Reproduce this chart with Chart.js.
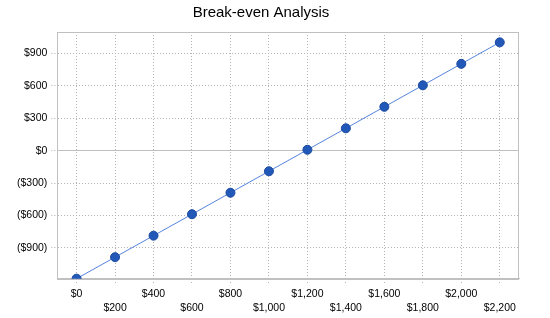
<!DOCTYPE html>
<html>
<head>
<meta charset="utf-8">
<script src="https://cdn.jsdelivr.net/npm/chart.js@4"></script>
<style>
    html, body { margin: 0; padding: 0; background: #ffffff; }
    #wrap { width: 550px; height: 318px; }
</style>
</head>
<body>
<div id="wrap"><canvas id="chart" width="550" height="318"></canvas></div>
<script>
// Break-even chart data
const categories = ["$0", "$200", "$400", "$600", "$800", "$1,000", "$1,200", "$1,400", "$1,600", "$1,800", "$2,000", "$2,200"];
const profitValues = [-1185, -986, -787, -588, -389, -190, 9, 208, 407, 606, 805, 1004];
const yTickValues = [-900, -600, -300, 0, 300, 600, 900];
const chartTitle = "Break-even Analysis";

const tickFont = { family: "'Liberation Sans', Arial, sans-serif", size: 10.5, lineHeight: 1.35 };

function money(v) {
    const s = "$" + Math.abs(v).toLocaleString("en-US");
    return v < 0 ? "(" + s + ")" : s;
}

// draw title a bit left of centre, like the original
const titlePlugin = {
    id: "titleText",
    afterDraw(chart) {
        const c = chart.ctx;
        c.save();
        c.font = "15px 'Liberation Sans', Arial, sans-serif";
        c.fillStyle = "#000000";
        c.textAlign = "center";
        c.textBaseline = "middle";
        c.fillText(chartTitle, chart.width / 2 - 14, 13);
        c.restore();
    }
};

// full box round the plot area
const framePlugin = {
    id: "frame",
    beforeDatasetsDraw(chart) {
        const a = chart.chartArea;
        const c = chart.ctx;
        c.save();
        c.strokeStyle = "#c0c0c0";
        c.lineWidth = 1;
        c.strokeRect(Math.round(a.left) + 0.5, Math.round(a.top) + 0.5, Math.round(a.right - a.left) - 1, Math.round(a.bottom - a.top));
        c.restore();
    }
};

const ctx = document.getElementById("chart").getContext("2d");
new Chart(ctx, {
    type: "line",
    data: {
        labels: categories,
        datasets: [{
            data: profitValues,
            borderColor: "#5585dc",
            borderWidth: 1,
            pointRadius: 4.5,
            pointBackgroundColor: "#2258b8",
            pointBorderColor: "#1c4aa0",
            pointBorderWidth: 1,
            tension: 0
        }]
    },
    options: {
        responsive: false,
        animation: false,
        layout: { padding: { left: 13, right: 31, top: 32, bottom: 1 } },
        plugins: {
            legend: { display: false },
            title: { display: false },
            tooltip: { enabled: false }
        },
        scales: {
            x: {
                offset: true,
                grid: {
                    offset: false,
                    color: "#b4b4b4",
                    tickLength: 6,
                    tickBorderDash: [1, 2],
                    tickColor: "#b4b4b4"
                },
                border: { color: "#c0c0c0", dash: [1, 2] },
                ticks: {
                    color: "#000000",
                    font: tickFont,
                    padding: 2,
                    maxRotation: 0,
                    autoSkip: false,
                    callback: function (value, index) {
                        const label = categories[index];
                        return index % 2 ? ["", label] : label;
                    }
                }
            },
            y: {
                min: -1185,
                max: 1100,
                afterBuildTicks: axis => {
                    axis.ticks = yTickValues.map(v => ({ value: v }));
                },
                grid: {
                    color: c => (c.tick && c.tick.value === 0 ? "#c0c0c0" : "#b4b4b4"),
                    tickLength: 6,
                    tickBorderDash: [1, 2],
                    tickColor: "#b4b4b4"
                },
                border: {
                    color: "#c0c0c0",
                    dash: c => (c.tick && c.tick.value === 0 ? [] : [1, 2])
                },
                ticks: {
                    color: "#000000",
                    font: tickFont,
                    padding: 4,
                    callback: v => money(v)
                }
            }
        }
    },
    plugins: [titlePlugin, framePlugin]
});
</script>
</body>
</html>
